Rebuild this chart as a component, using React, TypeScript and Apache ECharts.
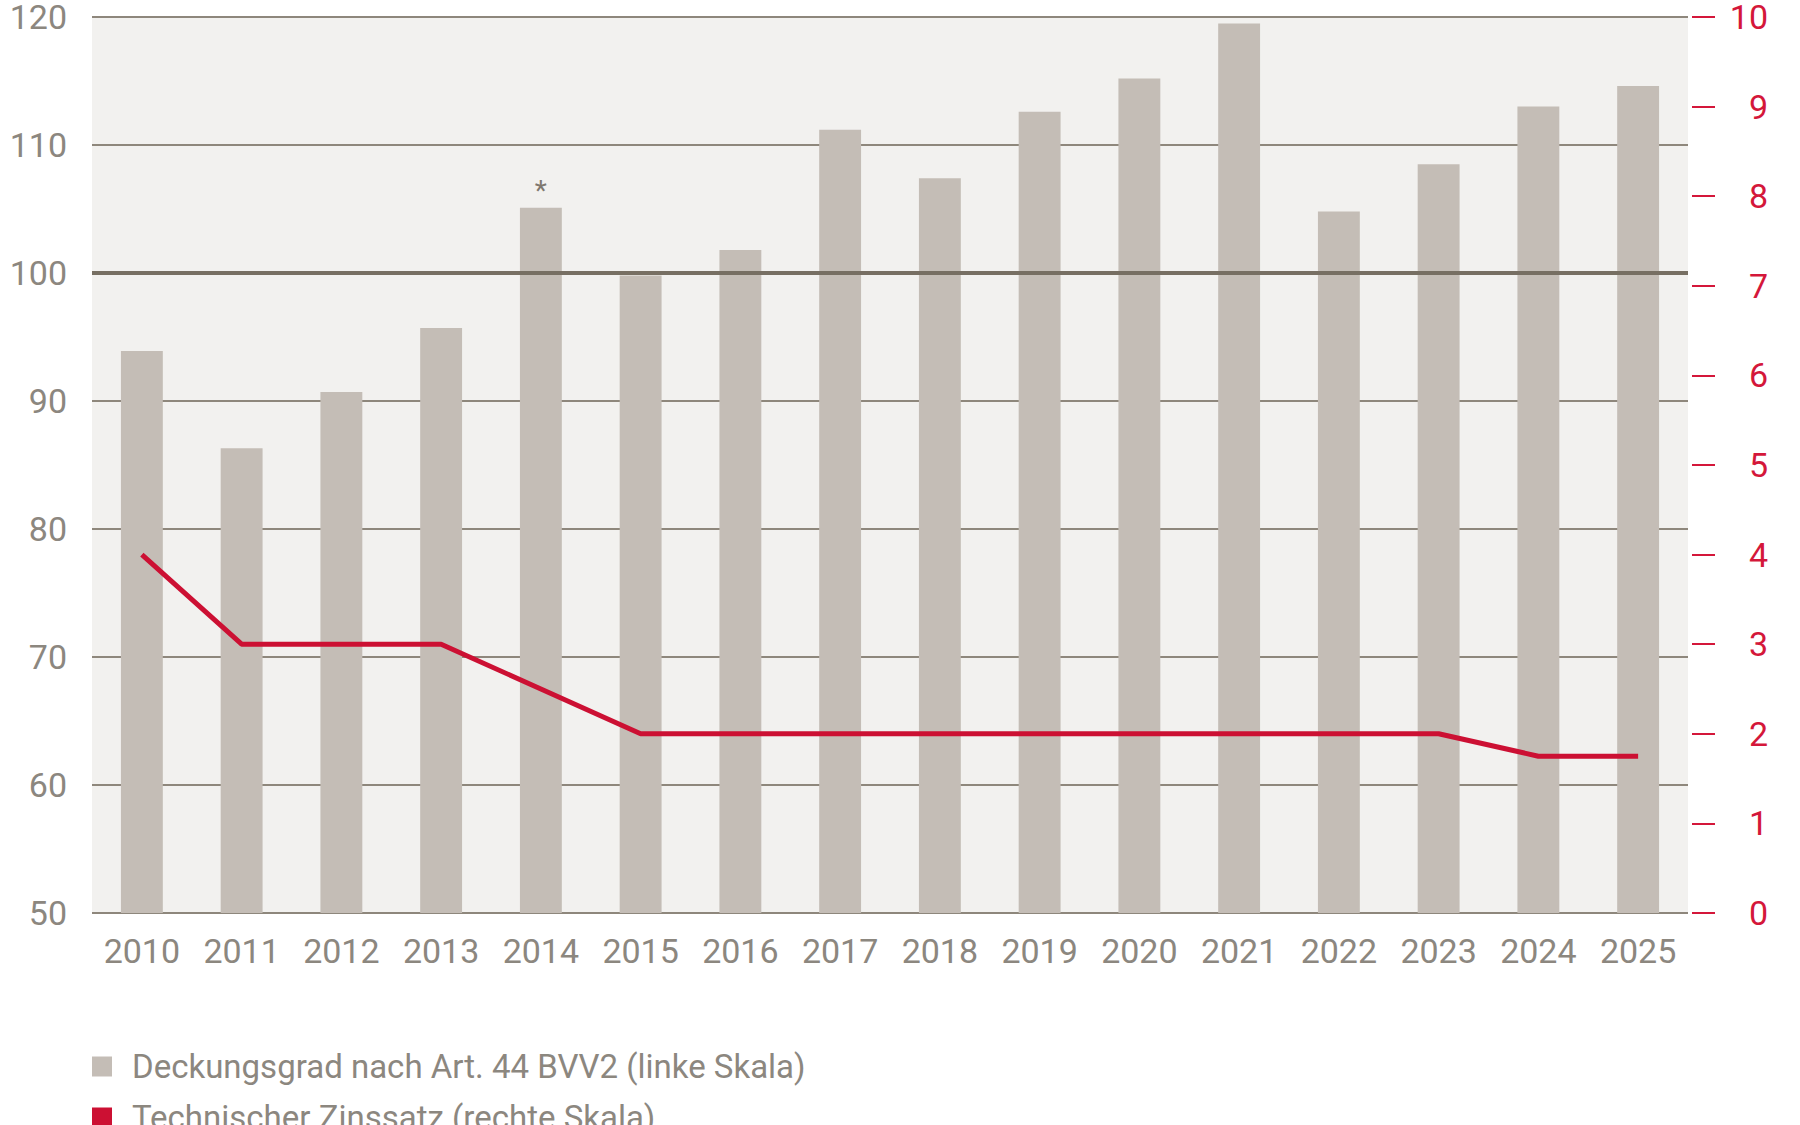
import React, { useEffect, useRef } from "react";
import * as echarts from "echarts";

const years = ["2010", "2011", "2012", "2013", "2014", "2015", "2016", "2017", "2018", "2019", "2020", "2021", "2022", "2023", "2024", "2025"];
const coverageRatio = [93.9, 86.3, 90.7, 95.7, 105.1, 99.8, 101.8, 111.2, 107.4, 112.6, 115.2, 119.5, 104.8, 108.5, 113.0, 114.6];
const technicalRate = [4.0, 3.0, 3.0, 3.0, 2.5, 2.0, 2.0, 2.0, 2.0, 2.0, 2.0, 2.0, 2.0, 2.0, 1.75, 1.75];
const starredYear = "2014";
const seriesNames = ["Deckungsgrad nach Art. 44 BVV2 (linke Skala)", "Technischer Zinssatz (rechte Skala)"];

const FONT = "Roboto, 'Noto Sans', sans-serif";
const GRAY_TEXT = "#8c877f";
const RED = "#cc1033";
const RED_TEXT = "#d4173a";
const BAR = "#c4bdb6";

const legendBase = {
  orient: "vertical",
  left: 92,
  padding: 0,
  itemWidth: 20,
  itemHeight: 20,
  textStyle: { color: GRAY_TEXT, fontSize: 33, fontFamily: FONT, lineHeight: 20, padding: [0, 0, 0, 15] },
};

export default function App() {
  const ref = useRef<HTMLDivElement>(null);
  useEffect(() => {
    if (!ref.current) return;
    const chart = echarts.init(ref.current, undefined, { renderer: "svg" });
    chart.setOption({
      animation: false,
      backgroundColor: "#ffffff",
      grid: {
        left: 92,
        right: 112,
        top: 15,
        bottom: 212,
        show: true,
        backgroundColor: "#f2f1ef",
        borderWidth: 0,
      },
      legend: [
        { ...legendBase, top: 1050, data: [{ name: seriesNames[0], icon: "rect" }] },
        { ...legendBase, top: 1101, data: [{ name: seriesNames[1], icon: "rect" }] },
      ],
      xAxis: {
        type: "category",
        data: years,
        axisLine: { show: false },
        axisTick: { show: false },
        axisLabel: { color: GRAY_TEXT, fontSize: 34, fontFamily: FONT, margin: 21, interval: 0 },
      },
      yAxis: [
        {
          type: "value",
          min: 50,
          max: 120,
          interval: 10,
          axisLine: { show: false },
          axisTick: { show: false },
          axisLabel: { color: GRAY_TEXT, fontSize: 34, fontFamily: FONT, margin: 25 },
          splitLine: { lineStyle: { color: "#8e877c", width: 2 } },
        },
        {
          type: "value",
          position: "right",
          min: 0,
          max: 10,
          interval: 1,
          offset: 4,
          axisLine: { show: false },
          axisTick: { show: true, length: 23, lineStyle: { color: RED_TEXT, width: 2 } },
          axisLabel: { color: RED_TEXT, fontSize: 34, fontFamily: FONT, margin: 76, align: "right" },
          splitLine: { show: false },
        },
      ],
      series: [
        {
          name: "ref100",
          type: "line",
          yAxisIndex: 0,
          z: 1,
          data: years.map(() => null),
          silent: true,
          markLine: {
            silent: true,
            symbol: "none",
            label: { show: false },
            lineStyle: { color: "#776f63", width: 4, type: "solid" },
            data: [{ yAxis: 100 }],
          },
        },
        {
          name: seriesNames[0],
          type: "bar",
          yAxisIndex: 0,
          z: 2,
          barWidth: "42%",
          itemStyle: { color: BAR },
          data: coverageRatio.map((v, i) =>
            years[i] === starredYear
              ? {
                  value: v,
                  label: {
                    show: true,
                    position: "top",
                    distance: 3,
                    formatter: "*",
                    color: "#7f786f",
                    fontSize: 28,
                    fontFamily: FONT,
                  },
                }
              : v
          ),
        },
        {
          name: seriesNames[1],
          type: "line",
          yAxisIndex: 1,
          z: 3,
          symbol: "none",
          itemStyle: { color: RED },
          lineStyle: { color: RED, width: 5 },
          data: technicalRate,
        },
      ],
    });
    return () => chart.dispose();
  }, []);
  return <div ref={ref} style={{ position: "fixed", left: 0, top: 0, width: 1800, height: 1125 }} />;
}
